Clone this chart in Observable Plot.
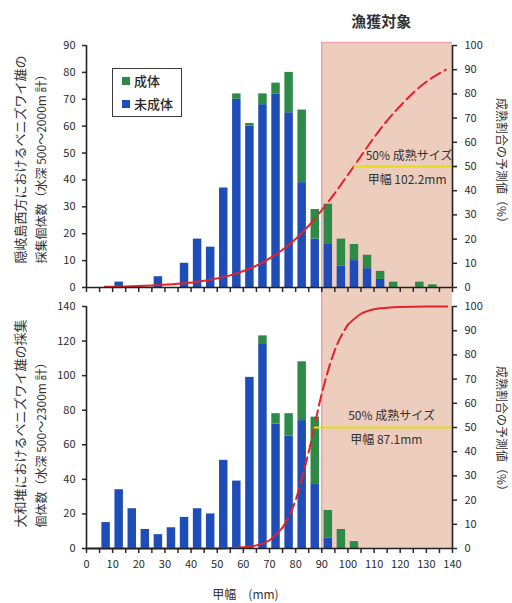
<!DOCTYPE html>
<html lang="ja"><head><meta charset="utf-8">
<script src="https://cdn.jsdelivr.net/npm/d3@7"></script>
<script src="https://cdn.jsdelivr.net/npm/@observablehq/plot@0.6"></script>
<style>
html,body{margin:0;padding:0;background:#fff;}
#wrap{position:relative;width:512px;height:603px;font-family:"Noto Sans CJK JP","Noto Sans",sans-serif;color:#2a2a2a;}
#wrap svg{display:block;}
#legend{position:absolute;left:112px;top:68px;width:70px;height:49px;border:1.6px solid #3a3a3a;box-sizing:border-box;background:#fff;font-size:13px;font-weight:500;}
.li{position:absolute;left:9px;display:flex;align-items:center;height:16px;line-height:16px;}
.sw{width:8px;height:8px;margin-right:4px;}
</style></head><body><div id="wrap"></div>
<script>
// ---- data ----
const binLo = [5,10,15,20,25,30,35,40,45,50,55,60,65,70,75,80,85,90,95,100,105,110,115,120,125,130,135];
const okiImmature = [0,2,0,0,4,0,9,18,15,37,70,60,68,72,65,39,18,16,8,10,7,3,0,0,0,0,0];
const okiMature   = [0,0,0,0,0,0,0,0,0,0,2,1,4,4,15,27,11,15,10,6,5,3,2,0,2,1,0];
const yamatoImmature = [15,34,23,11,8,12,18,23,20,51,39,99,118,72,65,74,37,6,0,0,0,0,0,0,0,0,0];
const yamatoMature   = [0,0,0,0,0,0,0,0,0,0,0,0,5,6,13,34,39,16,11,4,0,0,0,0,0,0,0];
const stages = ["未成体","成体"];
const stageColors = ["#1f4db8","#2e8b47"];
const fishingRange = [90,140];
const fishingLabel = "漁獲対象";
const okiL50 = 102.2, yamatoL50 = 87.1;
const okiCurveX = [7,15,25,35,45,55,60,65,70,75,80,85,90,95,100,105,110,115,120,125,130,137.5];
const okiCurveP = [0.3,0.4,0.8,1.5,2.8,5,6.8,9,12,15.6,20,25.5,32,39,46.6,54.3,62,69,75,80.5,85,90];
const yamatoCurveX = [0,10,20,30,40,50,55,60,65,70,75,80,85,90,95,100,105,110,115,120,130,138];
const yamatoCurveP = [0,0,0,0,0,0,0.2,0.5,1.3,3.4,8.6,20,40,64,82,92.5,97,98.9,99.5,99.8,100,100];
const xTicks = [0,5,10,15,20,25,30,35,40,45,50,55,60,65,70,75,80,85,90,95,100,105,110,115,120,125,130,135,140];
const okiYTicks = [0,10,20,30,40,50,60,70,80,90];
const yamatoYTicks = [0,20,40,60,80,100,120,140];
const pctTicks = [0,10,20,30,40,50,60,70,80,90,100];
const okiTitles = ["隠岐島西方におけるベニズワイ雄の","採集個体数（水深 500～2000m 計）"];
const yamatoTitles = ["大和堆におけるベニズワイ雄の採集","個体数（水深 500～2300m 計）"];
const rightTitle = "成熟割合の予測値（%）";
const xTitle = "甲幅　(mm)";
const l50Label = "50% 成熟サイズ";

// ---- styles ----
const shade = "#edcdbd", pink = "#eba3ad", red = "#e42228", yellow = "#e3dc1c", axisColor = "#222";
const font = '"Noto Sans CJK JP","Noto Sans",sans-serif';

function rowsFor(imm, mat) {
  const rows = [];
  binLo.forEach((lo, i) => rows.push({lo, n: imm[i], stage: stages[0]}));
  binLo.forEach((lo, i) => rows.push({lo, n: mat[i], stage: stages[1]}));
  return rows;
}
function curveRows(xs, ps) { return xs.map((x, i) => ({x, p: ps[i]})); }

function panel(o) {
  const k = o.yMax / 100;
  const marks = [
    Plot.rect([fishingRange], {x1: d => d[0], x2: d => d[1], fill: shade, insetTop: -o.shadeTop, insetBottom: -o.shadeBottom}),
    Plot.ruleX([fishingRange[0]], {stroke: pink, strokeWidth: 1.5, insetTop: -o.shadeTop, insetBottom: -o.shadeBottom}),
    Plot.rectY(o.rows, {x1: "lo", x2: d => d.lo + 5, y: "n", fill: "stage", insetLeft: 2.3, insetRight: 2.3}),
    ...o.segments.map(([a, b, dash]) => Plot.line(o.curve.filter(d => d.x >= a && d.x <= b),
      {x: "x", y: d => d.p * k, stroke: red, strokeWidth: 2, curve: "monotone-x", strokeDasharray: dash ? "11,5" : null})),
    Plot.ruleY([50], {y: d => d * k, x1: o.L50, x2: fishingRange[1], insetRight: o.yellowOver, stroke: yellow, strokeWidth: 2}),
    Plot.text([{x: o.L50, y: 50 * k, t: l50Label}], {x: "x", y: "y", text: "t", dx: o.labelDx, dy: o.labelDy1, textAnchor: "start", fontSize: 12, fill: "#333"}),
    Plot.text([{x: o.L50, y: 50 * k, t: `甲幅 ${o.L50}mm`}], {x: "x", y: "y", text: "t", dx: o.labelDx + 2, dy: o.labelDy2, textAnchor: "start", fontSize: 12, fill: "#333"}),
    Plot.axisY({ticks: o.yTicks, tickSize: 4, tickPadding: 7, label: null, strokeWidth: 1.5}),
    Plot.axisY({anchor: "right", ticks: pctTicks.map(v => v * k), tickFormat: d => Math.round(d / k), tickSize: 4, tickPadding: 8, label: null, strokeWidth: 1.5}),
    Plot.axisX({ticks: xTicks, tickSize: 5, tickPadding: 7, label: null, strokeWidth: 1.5,
      tickFormat: o.showXLabels ? (d => d % 10 === 0 ? d : "") : (() => "")}),
    Plot.ruleX([0, 140], {stroke: axisColor, strokeWidth: 1.6}),
    Plot.ruleY([0], {stroke: axisColor, strokeWidth: 1.6}),
    Plot.text([o.titles[0]], {text: d => d, frameAnchor: "bottom-left", rotate: -90, textAnchor: "start", lineAnchor: "middle", dx: -66, dy: o.titleDy, fontSize: 13, fill: "#333"}),
    Plot.text([o.titles[1]], {text: d => d, frameAnchor: "bottom-left", rotate: -90, textAnchor: "start", lineAnchor: "middle", dx: -44, dy: o.titleDy, fontSize: 12, fill: "#333"}),
    Plot.text([rightTitle], {text: d => d, frameAnchor: "right", rotate: 90, textAnchor: "middle", lineAnchor: "middle", dx: 48, dy: o.rightDy, fontSize: 12, fill: "#333"}),
    ...(o.extra || [])
  ];
  return Plot.plot({
    width: 512, height: o.height,
    marginLeft: 86, marginRight: 60, marginTop: o.marginTop, marginBottom: o.marginBottom,
    x: {domain: [0, 140]},
    y: {domain: [0, o.yMax]},
    color: {domain: stages, range: stageColors},
    style: {fontFamily: font, fontSize: "11px", color: "#2a2a2a", background: "transparent", overflow: "visible"},
    marks
  });
}

const wrap = document.getElementById("wrap");

wrap.appendChild(panel({
  height: 300, marginTop: 45, marginBottom: 13, yMax: 90, yTicks: okiYTicks,
  rows: rowsFor(okiImmature, okiMature), curve: curveRows(okiCurveX, okiCurveP),
  segments: [[0, 85, false], [85, 140, true]],
  L50: okiL50, labelDx: 12, labelDy1: -10, labelDy2: 14, yellowOver: -5,
  shadeTop: 3, shadeBottom: 13, showXLabels: false,
  titles: okiTitles, titleDy: -24, rightDy: -3,
  extra: [
    Plot.ruleY([okiYTicks[okiYTicks.length - 1]], {x1: fishingRange[0], x2: fishingRange[1], dy: -3, stroke: pink, strokeWidth: 1.5}),
    Plot.text([fishingLabel], {text: d => d, x: (fishingRange[0] + fishingRange[1]) / 2, frameAnchor: "top", lineAnchor: "middle", dx: -6, dy: -23, fontSize: 15, fontWeight: "bold", fill: "#333"})
  ]
}));

wrap.appendChild(panel({
  height: 303, marginTop: 6, marginBottom: 55, yMax: 140, yTicks: yamatoYTicks,
  rows: rowsFor(yamatoImmature, yamatoMature), curve: curveRows(yamatoCurveX, yamatoCurveP),
  segments: [[0, 75, false], [75, 100, true], [100, 140, false]],
  L50: yamatoL50, labelDx: 34, labelDy1: -11, labelDy2: 13, yellowOver: 1,
  shadeTop: 6, shadeBottom: 0, showXLabels: true,
  titles: yamatoTitles, titleDy: -21, rightDy: 4,
  extra: [
    Plot.text([xTitle], {text: d => d, frameAnchor: "bottom", lineAnchor: "middle", dx: -24, dy: 47, fontSize: 12, fill: "#333"})
  ]
}));

// legend
const legend = document.createElement("div");
legend.id = "legend";
[stages[1], stages[0]].forEach((s, i) => {
  const item = document.createElement("div");
  item.className = "li";
  item.style.top = (i === 0 ? 4 : 27) + "px";
  const sw = document.createElement("span");
  sw.className = "sw";
  sw.style.background = stageColors[stages.indexOf(s)];
  item.appendChild(sw);
  item.appendChild(document.createTextNode(s));
  legend.appendChild(item);
});
wrap.appendChild(legend);
</script></body></html>
